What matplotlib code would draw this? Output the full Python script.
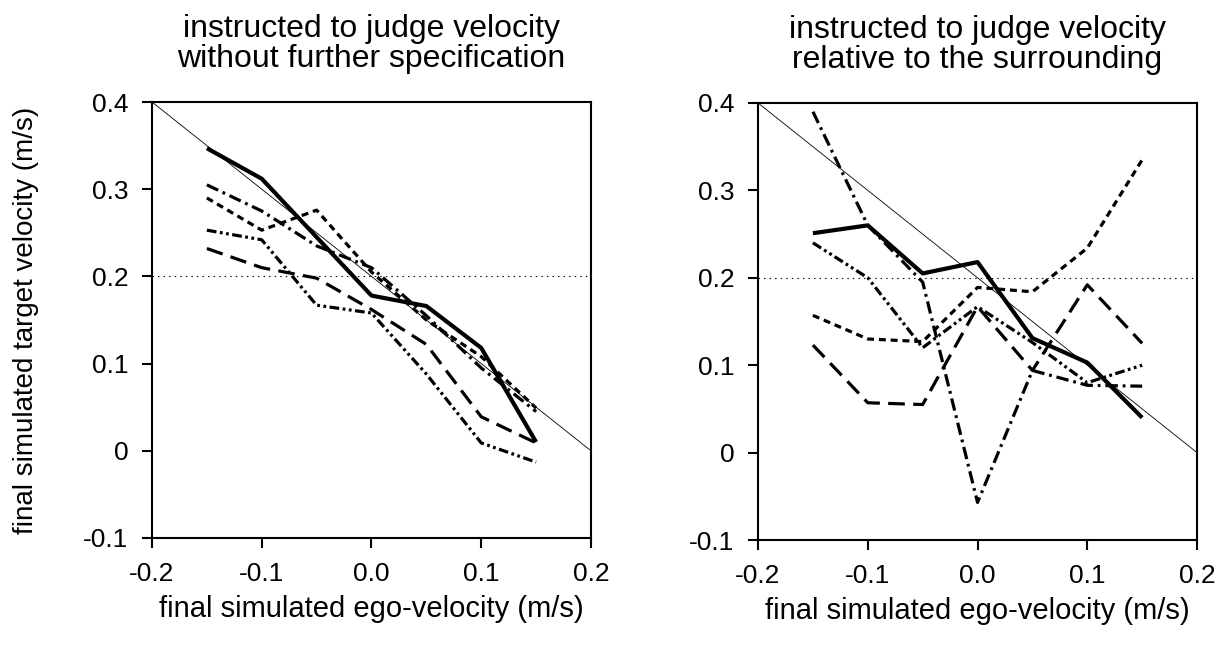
import matplotlib
matplotlib.use("Agg")
import matplotlib.pyplot as plt

# ego-velocity steps (m/s)
ego = [-0.15, -0.10, -0.05, 0.0, 0.05, 0.10, 0.15]

# left panel: instructed without further specification
left_solid = [0.347, 0.312, 0.245, 0.178, 0.166, 0.118, 0.010]
left_dashdot = [0.305, 0.275, 0.235, 0.210, 0.155, 0.095, 0.045]
left_shortdash = [0.290, 0.253, 0.276, 0.205, 0.150, 0.108, 0.049]
left_dashdotdot = [0.253, 0.242, 0.167, 0.158, 0.088, 0.009, -0.013]
left_longdash = [0.232, 0.210, 0.198, 0.162, 0.122, 0.039, 0.009]

# right panel: relative to the surrounding
right_solid = [0.251, 0.260, 0.205, 0.218, 0.131, 0.103, 0.040]
right_dashdot = [0.390, 0.260, 0.195, -0.057, 0.094, 0.077, 0.076]
right_shortdash = [0.157, 0.130, 0.127, 0.189, 0.184, 0.234, 0.335]
right_dashdotdot = [0.240, 0.200, 0.120, 0.167, 0.126, 0.080, 0.100]
right_longdash = [0.123, 0.057, 0.055, 0.167, 0.094, 0.192, 0.125]

titles = ["instructed to judge velocity\nwithout further specification",
          "instructed to judge velocity\nrelative to the surrounding"]
xlabel = "final simulated ego-velocity (m/s)"
ylabel = "final simulated target velocity (m/s)"
xticks = [-0.2, -0.1, 0.0, 0.1, 0.2]
xticklabels = ["-0.2", "-0.1", "0.0", "0.1", "0.2"]
yticks = [-0.1, 0.0, 0.1, 0.2, 0.3, 0.4]
yticklabels = ["-0.1", "0", "0.1", "0.2", "0.3", "0.4"]

plt.rcParams['font.family'] = ['Liberation Sans', 'DejaVu Sans']
plt.rcParams['lines.scale_dashes'] = False

styles = {
    "solid": dict(linestyle='-', linewidth=3.0),
    "dashdot": dict(dashes=(9, 3.5, 2, 3.5), linewidth=2.3),
    "shortdash": dict(dashes=(5, 3.5), linewidth=2.3),
    "dashdotdot": dict(dashes=(7, 2.5, 2, 2.5, 2, 2.5), linewidth=2.3),
    "longdash": dict(dashes=(12, 6), linewidth=2.3),
}

panels = [
    {"solid": left_solid, "dashdot": left_dashdot, "shortdash": left_shortdash,
     "dashdotdot": left_dashdotdot, "longdash": left_longdash},
    {"solid": right_solid, "dashdot": right_dashdot, "shortdash": right_shortdash,
     "dashdotdot": right_dashdotdot, "longdash": right_longdash},
]

fig = plt.figure(figsize=(12.16, 6.51), dpi=100)
boxes = [[0.125, 0.1736, 0.361, 0.6697],
         [0.6234, 0.1705, 0.361, 0.6713]]

for n, panel in enumerate(panels):
    ax = fig.add_axes(boxes[n])
    # reference lines
    ax.plot([-0.2, 0.2], [0.4, 0.0], color='black', linewidth=0.6)
    ax.axhline(0.2, color='black', linewidth=0.8, linestyle=(0, (1, 3)))
    for key in ["longdash", "dashdotdot", "shortdash", "dashdot", "solid"]:
        ax.plot(ego, panel[key], color='black', solid_capstyle='butt',
                dash_capstyle='butt', **styles[key])

    ax.set_xlim(-0.2, 0.2)
    ax.set_ylim(-0.1, 0.4)
    ax.set_xticks(xticks)
    ax.set_xticklabels(xticklabels)
    ax.set_yticks(yticks)
    ax.set_yticklabels(yticklabels)
    ax.tick_params(direction='out', length=7, width=1.5, labelsize=19)
    ax.tick_params(axis='x', pad=10)
    ax.tick_params(axis='y', pad=10)
    for sp in ax.spines.values():
        sp.set_linewidth(1.5)
    ax.set_title(titles[n], fontsize=23, pad=25, linespacing=1.0)
    ax.set_xlabel(xlabel, fontsize=21)
    ax.xaxis.set_label_coords(0.5, -0.13)
    if n == 0:
        ax.set_ylabel(ylabel, fontsize=20)
        ax.yaxis.set_label_coords(-0.257, 0.5)

fig.savefig("out.png", dpi=100)
